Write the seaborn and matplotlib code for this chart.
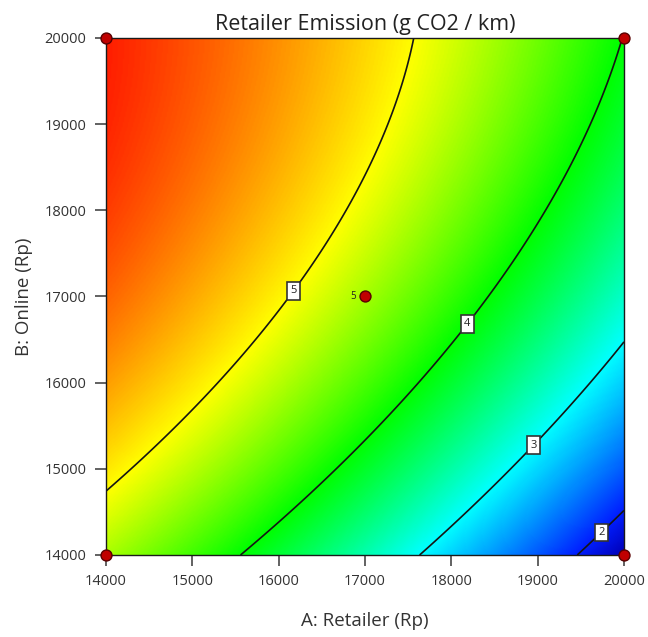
import numpy as np
import matplotlib
matplotlib.use("Agg")
import matplotlib.pyplot as plt
from matplotlib.colors import LinearSegmentedColormap, Normalize
import pandas as pd
import seaborn as sns

# Contour crossings of the fitted response (A: Retailer, B: Online, level)
c5_a = [14000, 14280, 15410, 16180, 16830, 17270, 17530]
c5_b = [14800, 15000, 16000, 17060, 18000, 19000, 20000]
c4_a = [15600, 16600, 17520, 18200, 19030, 19610, 19830, 19990]
c4_b = [14000, 15000, 16000, 16670, 18000, 19000, 19510, 20000]
c3_a = [17700, 18680, 18950, 19610, 20000]
c3_b = [14000, 15000, 15280, 16000, 16400]
c2_a = [19470, 19700, 20000]
c2_b = [14000, 14300, 14490]

contour_levels = [2, 3, 4, 5]
label_pos_a = [19700, 18950, 18200, 16180]
label_pos_b = [14300, 15280, 16670, 17060]

# Design points (corners + replicated center)
design_a = [14000, 20000, 14000, 20000, 17000]
design_b = [14000, 14000, 20000, 20000, 17000]
center_reps = 5

x_ticks = [14000, 15000, 16000, 17000, 18000, 19000, 20000]
y_ticks = [14000, 15000, 16000, 17000, 18000, 19000, 20000]

# ---- quadratic response surface fitted to the contour crossings ----
pts_a = np.array(c5_a + c4_a + c3_a + c2_a, float)
pts_b = np.array(c5_b + c4_b + c3_b + c2_b, float)
pts_z = np.array([5] * len(c5_a) + [4] * len(c4_a) + [3] * len(c3_a) + [2] * len(c2_a), float)


def coded(v):
    return (np.asarray(v, float) - 17000.0) / 3000.0


def design_matrix(a, b):
    x1, x2 = coded(a), coded(b)
    return np.column_stack([np.ones_like(x1), x1, x2, x1 * x2, x1 ** 2, x2 ** 2])


coef, *_ = np.linalg.lstsq(design_matrix(pts_a, pts_b), pts_z, rcond=None)

ga = np.linspace(14000, 20000, 400)
gb = np.linspace(14000, 20000, 400)
GA, GB = np.meshgrid(ga, gb)
Z = (design_matrix(GA.ravel(), GB.ravel()) @ coef).reshape(GA.shape)

# ---- colour scale: blue (low) -> cyan -> green -> yellow -> red (high) ----
zmin, zmax = Z.min(), Z.max()
stops = [(zmin, (0.0, 0.0, 0.72)), (2.0, (0.0, 0.12, 1.0)), (3.0, (0.0, 1.0, 1.0)),
         (4.0, (0.0, 1.0, 0.0)), (5.0, (1.0, 1.0, 0.0)), (zmax, (1.0, 0.12, 0.0))]
stops = [(min(max((v - zmin) / (zmax - zmin), 0), 1), c) for v, c in stops]
cmap = LinearSegmentedColormap.from_list("emission", stops)

sns.set_style("ticks")
plt.rcParams["font.family"] = ["Open Sans", "DejaVu Sans"]

fig = plt.figure(figsize=(6.48, 6.37), dpi=100)
ax = fig.add_axes([106 / 648, 1 - 555 / 637, 518 / 648, 517 / 637])

ax.imshow(Z, extent=[14000, 20000, 14000, 20000], origin="lower", cmap=cmap,
          norm=Normalize(zmin, zmax), aspect="auto", interpolation="bilinear")

cs = ax.contour(GA, GB, Z, levels=contour_levels, colors="#151515", linewidths=1.2)
labels = ax.clabel(cs, fmt="%d", fontsize=8, inline=True, inline_spacing=2,
                   manual=list(zip(label_pos_a, label_pos_b)))
for t in labels:
    t.set_rotation(0)
    t.set_color("#222222")
    t.set_bbox(dict(boxstyle="square,pad=0.3", fc="white", ec="#333333", lw=1.2))

design = pd.DataFrame({"A": design_a, "B": design_b})
sns.scatterplot(data=design, x="A", y="B", ax=ax, s=62, color="#c00000",
                edgecolor="#5a0000", linewidth=1.0, zorder=5, clip_on=False, legend=False)
ax.text(17000 - 110, 17000, str(center_reps), fontsize=7, ha="right", va="center",
        color="#222222")

ax.set_xlim(14000, 20000)
ax.set_ylim(14000, 20000)
ax.set_xticks(x_ticks)
ax.set_yticks(y_ticks)
ax.tick_params(direction="out", length=8, width=1.3, color="#555555",
               labelsize=10.5, labelcolor="#333333", pad=6)
for s in ax.spines.values():
    s.set_color("#1a1a1a")
    s.set_linewidth(1.0)

ax.set_xlabel("A: Retailer (Rp)", fontsize=13.5, color="#333333", labelpad=16)
ax.set_ylabel("B: Online (Rp)", fontsize=13.5, color="#333333", labelpad=8)
ax.set_title("Retailer Emission (g CO2 / km)", fontsize=15.5, color="#222222", pad=6)

fig.savefig("out.png", dpi=100)
